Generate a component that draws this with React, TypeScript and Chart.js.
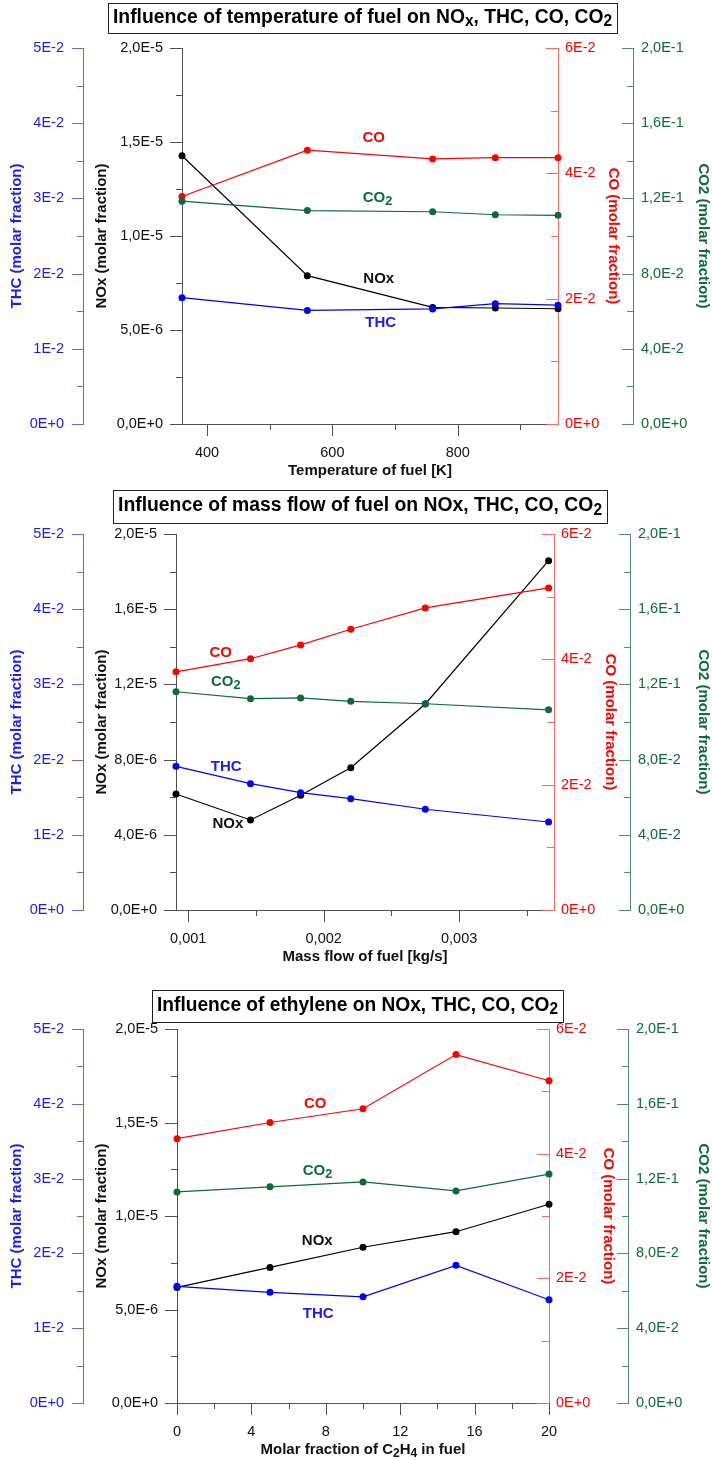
import React, { useEffect, useRef } from 'react';
import { Chart, registerables } from 'chart.js';

Chart.register(...registerables);

const FONT = '"Liberation Sans", Arial, Helvetica, sans-serif';

// ---------- Panel 1: temperature of fuel ----------
const TEMP_K = [360, 560, 760, 860, 960];
const TEMP_NOX = [1.427e-5, 7.89e-6, 6.2e-6, 6.17e-6, 6.13e-6];
const TEMP_THC = [0.0168, 0.0151, 0.0153, 0.016, 0.0158];
const TEMP_CO = [0.0363, 0.0437, 0.0423, 0.0425, 0.0425];
const TEMP_CO2 = [0.1185, 0.1135, 0.1129, 0.1113, 0.111];
const TEMP_TICKS = [400, 600, 800];
const TEMP_TICK_LABELS = ['400', '600', '800'];
const TEMP_MINOR = [500, 700, 900];
const TEMP_LABEL_X = [666, 672, 674, 677];
const TEMP_LABEL_Y = [1.52e-5, 1.202e-5, 7.71e-6, 5.37e-6];

// ---------- Panel 2: mass flow of fuel ----------
const FLOW_KGS = [0.00091, 0.00146, 0.00183, 0.0022, 0.00275, 0.00366];
const FLOW_NOX = [6.17e-6, 4.79e-6, 6.1e-6, 7.57e-6, 1.096e-5, 1.858e-5];
const FLOW_THC = [0.0191, 0.0168, 0.0156, 0.0148, 0.0134, 0.0117];
const FLOW_CO = [0.038, 0.0401, 0.0423, 0.0448, 0.0482, 0.0514];
const FLOW_CO2 = [0.1161, 0.1124, 0.1128, 0.111, 0.1097, 0.1065];
const FLOW_TICKS = [0.001, 0.002, 0.003];
const FLOW_TICK_LABELS = ['0,001', '0,002', '0,003'];
const FLOW_MINOR = [0.0015, 0.0025, 0.0035];
const FLOW_LABEL_X = [0.00124, 0.001277, 0.001293, 0.00128];
const FLOW_LABEL_Y = [1.368e-5, 1.212e-5, 4.56e-6, 7.6e-6];

// ---------- Panel 3: ethylene ----------
const C2H4_PCT = [0, 5, 10, 15, 20];
const ETH_NOX = [6.18e-6, 7.25e-6, 8.33e-6, 9.16e-6, 1.063e-5];
const ETH_THC = [0.0156, 0.0148, 0.0142, 0.0184, 0.0138];
const ETH_CO = [0.0424, 0.045, 0.0472, 0.0559, 0.0517];
const ETH_CO2 = [0.1129, 0.1156, 0.1182, 0.1134, 0.1224];
const ETH_TICKS = [0, 4, 8, 12, 16, 20];
const ETH_TICK_LABELS = ['0', '4', '8', '12', '16', '20'];
const ETH_MINOR = [2, 6, 10, 14, 18];
const ETH_LABEL_X = [7.43, 7.55, 7.54, 7.59];
const ETH_LABEL_Y = [1.598e-5, 1.244e-5, 8.69e-6, 4.76e-6];

// ---------- shared y axes ----------
const THC_TICKS = [0, 0.01, 0.02, 0.03, 0.04, 0.05];
const THC_TICK_LABELS = ['0E+0', '1E-2', '2E-2', '3E-2', '4E-2', '5E-2'];
const THC_MINOR = [0.005, 0.015, 0.025, 0.035, 0.045];

const NOX_TICKS_A = [0, 5e-6, 1e-5, 1.5e-5, 2e-5];
const NOX_TICK_LABELS_A = ['0,0E+0', '5,0E-6', '1,0E-5', '1,5E-5', '2,0E-5'];
const NOX_MINOR_A = [2.5e-6, 7.5e-6, 1.25e-5, 1.75e-5];
const NOX_TICKS_B = [0, 4e-6, 8e-6, 1.2e-5, 1.6e-5, 2e-5];
const NOX_TICK_LABELS_B = ['0,0E+0', '4,0E-6', '8,0E-6', '1,2E-5', '1,6E-5', '2,0E-5'];
const NOX_MINOR_B = [2e-6, 6e-6, 1e-5, 1.4e-5, 1.8e-5];

const CO_TICKS = [0, 0.02, 0.04, 0.06];
const CO_TICK_LABELS = ['0E+0', '2E-2', '4E-2', '6E-2'];
const CO_MINOR = [0.01, 0.03, 0.05];

const CO2_TICKS = [0, 0.04, 0.08, 0.12, 0.16, 0.2];
const CO2_TICK_LABELS = ['0,0E+0', '4,0E-2', '8,0E-2', '1,2E-1', '1,6E-1', '2,0E-1'];
const CO2_MINOR = [0.02, 0.06, 0.1, 0.14, 0.18];

const SERIES_LABELS = ['CO', 'CO2', 'NOx', 'THC'];

// ---------- styles ----------
const C = {
  thc: '#0000ff', thcAxis: '#6464ff', thcText: '#1a1aff',
  nox: '#000000', noxAxis: '#505050', noxText: '#111111',
  co: '#ff0000', coAxis: '#ff6464', coText: '#ff0000',
  co2: '#0b6b3a', co2Axis: '#4f8c6c', co2Text: '#0b6b3a',
};

type Seg = [string, boolean];

function measureRich(ctx: CanvasRenderingContext2D, segs: Seg[], size: number, subScale = 0.8) {
  let w = 0;
  for (const [t, sub] of segs) {
    ctx.font = `bold ${sub ? size * subScale : size}px ${FONT}`;
    w += ctx.measureText(t).width;
  }
  return w;
}

function drawRich(ctx: CanvasRenderingContext2D, segs: Seg[], cx: number, cy: number, size: number, color: string, hscale = 1, subScale = 0.8, subShift = 0.28) {
  const w = measureRich(ctx, segs, size, subScale);
  ctx.save();
  ctx.translate(cx, cy);
  ctx.scale(hscale, 1);
  ctx.fillStyle = color;
  ctx.textBaseline = 'middle';
  ctx.textAlign = 'left';
  let x = -w / 2;
  for (const [t, sub] of segs) {
    ctx.font = `bold ${sub ? size * subScale : size}px ${FONT}`;
    ctx.fillText(t, x, sub ? size * subShift : 0);
    x += ctx.measureText(t).width;
  }
  ctx.restore();
}

interface PanelCfg {
  top: number;
  height: number;
  widths: [number, number, number, number];
  coTitlePad: number;
  box: { x: number; y: number; w: number; h: number };
  title: Seg[];
  xTitle: Seg[];
  xs: number[];
  nox: number[];
  thc: number[];
  co: number[];
  co2: number[];
  xMin: number;
  xMax: number;
  xTicks: number[];
  xTickLabels: string[];
  xMinor: number[];
  noxTicks: number[];
  noxTickLabels: string[];
  noxMinor: number[];
  labelX: number[];
  labelY: number[];
}

const PANELS: PanelCfg[] = [
  {
    top: 0, height: 480, widths: [83, 99, 75, 79], coTitlePad: 11,
    box: { x: 108, y: 3, w: 509, h: 30 },
    title: [['Influence of temperature of fuel on NO', false], ['x', true], [', THC, CO, CO', false], ['2', true]],
    xTitle: [['Temperature of fuel [K]', false]],
    xs: TEMP_K, nox: TEMP_NOX, thc: TEMP_THC, co: TEMP_CO, co2: TEMP_CO2,
    xMin: 360, xMax: 960, xTicks: TEMP_TICKS, xTickLabels: TEMP_TICK_LABELS, xMinor: TEMP_MINOR,
    noxTicks: NOX_TICKS_A, noxTickLabels: NOX_TICK_LABELS_A, noxMinor: NOX_MINOR_A,
    labelX: TEMP_LABEL_X, labelY: TEMP_LABEL_Y,
  },
  {
    top: 486, height: 480, widths: [83, 93, 76, 82], coTitlePad: 11,
    box: { x: 113, y: 4, w: 494, h: 33 },
    title: [['Influence of mass flow of fuel on NOx, THC, CO, CO', false], ['2', true]],
    xTitle: [['Mass flow of fuel [kg/s]', false]],
    xs: FLOW_KGS, nox: FLOW_NOX, thc: FLOW_THC, co: FLOW_CO, co2: FLOW_CO2,
    xMin: 0.00091, xMax: 0.0037, xTicks: FLOW_TICKS, xTickLabels: FLOW_TICK_LABELS, xMinor: FLOW_MINOR,
    noxTicks: NOX_TICKS_B, noxTickLabels: NOX_TICK_LABELS_B, noxMinor: NOX_MINOR_B,
    labelX: FLOW_LABEL_X, labelY: FLOW_LABEL_Y,
  },
  {
    top: 981, height: 478, widths: [83, 94, 79, 84], coTitlePad: 11,
    box: { x: 152, y: 9, w: 411, h: 32 },
    title: [['Influence of ethylene on NOx, THC, CO, CO', false], ['2', true]],
    xTitle: [['Molar fraction of C', false], ['2', true], ['H', false], ['4', true], [' in fuel', false]],
    xs: C2H4_PCT, nox: ETH_NOX, thc: ETH_THC, co: ETH_CO, co2: ETH_CO2,
    xMin: 0, xMax: 20, xTicks: ETH_TICKS, xTickLabels: ETH_TICK_LABELS, xMinor: ETH_MINOR,
    noxTicks: NOX_TICKS_A, noxTickLabels: NOX_TICK_LABELS_A, noxMinor: NOX_MINOR_A,
    labelX: ETH_LABEL_X, labelY: ETH_LABEL_Y,
  },
];

function yAxis(o: {
  position: 'left' | 'right'; weight: number; max: number; width: number;
  ticks: number[]; labels: string[]; line: string; text: string; padding: number;
  title: string; titlePad: number;
}) {
  return {
    type: 'linear',
    position: o.position,
    weight: o.weight,
    min: 0,
    max: o.max,
    afterBuildTicks: (s: any) => { s.ticks = o.ticks.map((v) => ({ value: v })); },
    afterFit: (s: any) => { s.width = o.width; },
    grid: { display: false, drawTicks: false, drawOnChartArea: false },
    border: { display: true, color: o.line, width: 1 },
    ticks: {
      color: o.text, padding: o.padding, autoSkip: false,
      font: { size: 14.5, family: FONT },
      callback: (_v: any, i: number) => o.labels[i],
    },
    title: {
      display: true, text: o.title, color: o.text,
      font: { size: 15, weight: 'bold', family: FONT },
      padding: { top: o.titlePad, bottom: 0 },
    },
  };
}

function buildConfig(p: PanelCfg): any {
  const pts = (ys: number[]) => p.xs.map((x, i) => ({ x, y: ys[i] }));
  const ds = (label: string, ys: number[], axis: string, color: string) => ({
    label, data: pts(ys), yAxisID: axis, borderColor: color, backgroundColor: color,
    pointBackgroundColor: color, pointBorderColor: color, pointRadius: 3.5, pointBorderWidth: 0,
    borderWidth: 1.2, tension: 0, clip: false,
  });

  const overlay = {
    id: 'overlay',
    afterDraw(chart: any) {
      const ctx: CanvasRenderingContext2D = chart.ctx;
      const sx = chart.scales.x;
      const axes = [
        { id: 'yTHC', side: 'left', major: THC_TICKS, minor: THC_MINOR, L: 11, l: 6, color: C.thcAxis },
        { id: 'yNOx', side: 'left', major: p.noxTicks, minor: p.noxMinor, L: 12, l: 6, color: C.noxAxis },
        { id: 'yCO', side: 'right', major: CO_TICKS, minor: CO_MINOR, L: 12, l: 7, color: C.coAxis },
        { id: 'yCO2', side: 'right', major: CO2_TICKS, minor: CO2_MINOR, L: 11, l: 6, color: C.co2Axis },
        { id: 'x', side: 'bottom', major: p.xTicks, minor: p.xMinor, L: 12, l: 6, color: C.noxAxis },
      ];
      ctx.save();
      ctx.lineWidth = 1;
      for (const a of axes) {
        const s = chart.scales[a.id];
        ctx.strokeStyle = a.color;
        const draw = (v: number, len: number) => {
          const px = s.getPixelForValue(v);
          ctx.beginPath();
          if (a.side === 'bottom') {
            const x = Math.round(px) + 0.5;
            ctx.moveTo(x, s.top);
            ctx.lineTo(x, s.top + len);
          } else {
            const y = Math.round(px) + 0.5;
            const ax = a.side === 'left' ? Math.round(s.right) : Math.round(s.left);
            ctx.moveTo(ax - len, y);
            ctx.lineTo(ax, y);
          }
          ctx.stroke();
        };
        a.major.forEach((v) => draw(v, a.L));
        a.minor.forEach((v) => draw(v, a.l));
      }
      ctx.restore();

      // title box
      const b = p.box;
      ctx.save();
      ctx.fillStyle = '#ffffff';
      ctx.fillRect(b.x, b.y, b.w, b.h);
      ctx.strokeStyle = '#222222';
      ctx.lineWidth = 1;
      ctx.strokeRect(b.x + 0.5, b.y + 0.5, b.w, b.h);
      ctx.restore();
      const tw = measureRich(ctx, p.title, 20, 0.8);
      drawRich(ctx, p.title, b.x + b.w / 2, b.y + b.h / 2 - 1, 20, '#000000', (b.w - 10) / tw, 0.8, 0.25);

      // x axis title
      const area = chart.chartArea;
      drawRich(ctx, p.xTitle, (area.left + area.right) / 2, sx.top + 46.5, 15, '#111111', 1, 0.8, 0.25);

      // series labels
      const sy = chart.scales.yNOx;
      const colors = [C.coText, C.co2Text, C.noxText, C.thcText];
      SERIES_LABELS.forEach((name, i) => {
        const segs: Seg[] = name === 'CO2' ? [['CO', false], ['2', true]] : [[name, false]];
        drawRich(ctx, segs, sx.getPixelForValue(p.labelX[i]), sy.getPixelForValue(p.labelY[i]), 15, colors[i], 1, 0.85, 0.25);
      });
    },
  };

  return {
    type: 'line',
    data: {
      datasets: [
        ds('THC', p.thc, 'yTHC', C.thc),
        ds('CO2', p.co2, 'yCO2', C.co2),
        ds('CO', p.co, 'yCO', C.co),
        ds('NOx', p.nox, 'yNOx', C.nox),
      ],
    },
    options: {
      animation: false,
      responsive: false,
      events: [],
      layout: { padding: { top: 48, left: 0, right: 0, bottom: 0 } },
      plugins: { legend: { display: false }, tooltip: { enabled: false }, title: { display: false } },
      scales: {
        x: {
          type: 'linear', position: 'bottom', min: p.xMin, max: p.xMax,
          afterBuildTicks: (s: any) => { s.ticks = p.xTicks.map((v) => ({ value: v })); },
          afterFit: (s: any) => { s.height = 56; },
          grid: { display: false, drawTicks: false, drawOnChartArea: false },
          border: { display: true, color: C.noxAxis, width: 1 },
          ticks: {
            color: '#111111', padding: 20, autoSkip: false, maxRotation: 0,
            font: { size: 14.5, family: FONT },
            callback: (_v: any, i: number) => p.xTickLabels[i],
          },
          title: { display: false },
        },
        yTHC: yAxis({ position: 'left', weight: 1, max: 0.05, width: p.widths[0], ticks: THC_TICKS, labels: THC_TICK_LABELS, line: C.thcAxis, text: C.thcText, padding: 19, title: 'THC (molar fraction)', titlePad: 8 }),
        yNOx: yAxis({ position: 'left', weight: 0, max: 2e-5, width: p.widths[1], ticks: p.noxTicks, labels: p.noxTickLabels, line: C.noxAxis, text: C.noxText, padding: 19, title: 'NOx (molar fraction)', titlePad: 10 }),
        yCO: yAxis({ position: 'right', weight: 0, max: 0.06, width: p.widths[2], ticks: CO_TICKS, labels: CO_TICK_LABELS, line: C.coAxis, text: C.coText, padding: 7, title: 'CO (molar fraction)', titlePad: p.coTitlePad }),
        yCO2: yAxis({ position: 'right', weight: 1, max: 0.2, width: p.widths[3], ticks: CO2_TICKS, labels: CO2_TICK_LABELS, line: C.co2Axis, text: C.co2Text, padding: 8, title: 'CO2 (molar fraction)', titlePad: 0 }),
      },
    },
    plugins: [overlay],
  };
}

function Panel({ cfg }: { cfg: PanelCfg }) {
  const ref = useRef<HTMLCanvasElement>(null);
  useEffect(() => {
    if (!ref.current) return;
    const chart = new Chart(ref.current, buildConfig(cfg));
    return () => chart.destroy();
  }, [cfg]);
  return (
    <canvas
      ref={ref}
      width={712}
      height={cfg.height}
      style={{ position: 'absolute', left: 0, top: cfg.top, width: 712, height: cfg.height }}
    />
  );
}

export default function App() {
  return (
    <div style={{ position: 'absolute', left: 0, top: 0, width: 712, height: 1460, background: '#ffffff', overflow: 'hidden' }}>
      {PANELS.map((p, i) => (
        <Panel key={i} cfg={p} />
      ))}
    </div>
  );
}
